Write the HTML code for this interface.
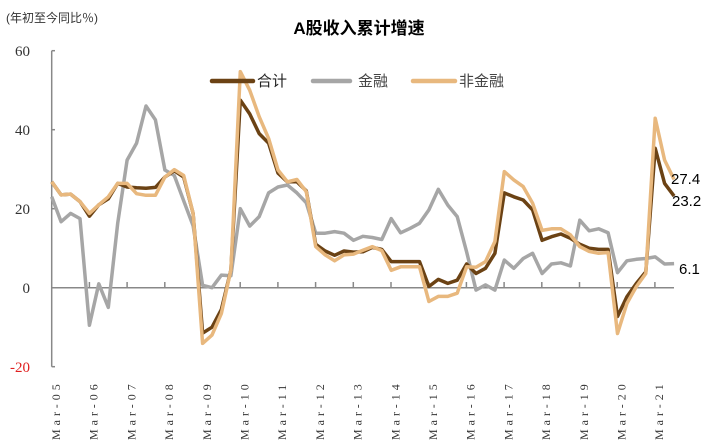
<!DOCTYPE html>
<html><head><meta charset="utf-8"><style>
body{margin:0;background:#fff;width:718px;height:444px;overflow:hidden}
svg{display:block}
</style></head><body>
<svg id="s" width="718" height="444" xmlns="http://www.w3.org/2000/svg" font-family="Liberation Serif, Noto Serif CJK SC, serif">
<text x="6" y="22" font-size="12" fill="#333" font-family="Liberation Sans, Noto Sans CJK SC, sans-serif">(年初至今同比％)</text>
<text x="359" y="34" font-size="17" font-weight="bold" text-anchor="middle" fill="#000" font-family="Liberation Sans, Noto Sans CJK SC, sans-serif">A股收入累计增速</text>
<g font-size="15" fill="#333" text-anchor="end">
<text x="30" y="56">60</text><text x="30" y="135">40</text><text x="30" y="214">20</text><text x="30" y="293">0</text><text x="30" y="372" fill="#e02020">-20</text>
</g>
<g stroke="#888" stroke-width="1.5" fill="none">
<line x1="51.7" y1="50.7" x2="51.7" y2="366.7"/>
<line x1="51.7" y1="287.7" x2="674" y2="287.7"/>
<line x1="51.7" y1="50.7" x2="55" y2="50.7"/><line x1="51.7" y1="129.7" x2="55" y2="129.7"/><line x1="51.7" y1="208.7" x2="55" y2="208.7"/><line x1="51.7" y1="366.7" x2="55" y2="366.7"/>
</g>
<g id="ticks" stroke="#888" stroke-width="1.5"></g>
<g id="xl" font-size="12" fill="#333"></g>
<g id="lines" fill="none" stroke-width="3.5" stroke-linejoin="round"></g>
<g font-family="Liberation Sans, Noto Sans CJK SC, sans-serif" font-size="15" fill="#222">
<line x1="212" y1="81" x2="253" y2="81" stroke="#6b4214" stroke-width="4.5" stroke-linecap="round"/>
<text x="257" y="86">合计</text>
<line x1="313" y1="81" x2="350" y2="81" stroke="#a6a6a6" stroke-width="4.5" stroke-linecap="round"/>
<text x="358" y="86" fill="#444">金融</text>
<line x1="413" y1="81" x2="455" y2="81" stroke="#e8b87e" stroke-width="4.5" stroke-linecap="round"/>
<text x="459" y="86" fill="#444">非金融</text>
<text x="671" y="184" fill="#000">27.4</text>
<text x="672" y="206" fill="#000">23.2</text>
<text x="679" y="274" fill="#000">6.1</text>
</g>
</svg>
<script>
var ns="http://www.w3.org/2000/svg";
function X(i){return 51.7+9.43*i}function Y(v){return 287.7-v*3.95}
var gray=[23,16.7,18.8,17.5,-9.5,1,-5,16.3,32.3,36.6,46,42.5,29.8,28.4,22,15.7,0.6,0,3.2,3,20,15.6,18,24,25.5,26,24,21.5,13.8,13.8,14.2,13.8,12,13,12.7,12.2,17.5,13.9,15,16.3,19.7,24.9,20.9,18,9.1,-0.6,0.7,-0.6,7,4.9,7.4,8.7,3.6,6,6.3,5.5,17.1,14.4,14.9,13.9,3.8,6.8,7.2,7.4,7.8,6,6.1];
var tot=[26.8,23.5,23.7,21.8,18.1,21,22.5,26.4,25.5,25.3,
25.2,25.4,28,29.6,28,18.8,-11.5,-10,-5.5,4.5,
47.5,44,39,36.6,29,26.8,26.8,24.5,11,9.3,
8.2,9.3,9,9.1,10.2,9.7,6.6,6.6,6.6,6.6,
0.3,2.1,1.1,1.9,6,3.6,4.9,8.7,24,23,
22.2,19.7,12,12.9,13.6,12.5,11,10,9.7,9.7,
-7.3,-2.3,1.1,4,35.3,26.4,23.2];
var non=[26.8,23.5,23.7,21.8,18.8,21,23,26.4,26.4,23.8,
23.4,23.4,28,29.9,28.4,18.8,-14.1,-12,-6.5,4.5,
54.7,50,43.3,37.8,29.8,26.8,27.4,24.3,10.4,8.3,
6.8,8.3,8.5,9.5,10.4,9.4,4.4,5.3,5.3,5.3,
-3.5,-2.2,-2.2,-1.4,5.3,5.2,6.6,11.7,29.4,27.3,
25.6,21.4,14.5,14.9,14.9,13.4,10.4,9.2,8.7,8.9,
-11.6,-4,0.3,3.6,42.9,32.3,27.4];
function pl(d,c){var p=d.map(function(v,i){return X(i).toFixed(1)+','+Y(v).toFixed(1)}).join(' ');var e=document.createElementNS(ns,'polyline');e.setAttribute('points',p);e.setAttribute('stroke',c);document.getElementById('lines').appendChild(e);}
pl(gray,'#a6a6a6');pl(tot,'#6b4214');pl(non,'#e8b87e');
for(var k=1;k<=16;k++){var t=document.createElementNS(ns,'line');var x=51.7+37.7*k;t.setAttribute('x1',x);t.setAttribute('x2',x);t.setAttribute('y1',282);t.setAttribute('y2',287.7);document.getElementById('ticks').appendChild(t);}
for(var k=0;k<=16;k++){var t=document.createElementNS(ns,'text');var x=56+37.7*k;var yy=(k+5<10?'0':'')+(k+5);t.setAttribute('transform','translate('+(x+4)+',440) rotate(-90)');t.setAttribute('letter-spacing','4');t.textContent='Mar-'+yy;document.getElementById('xl').appendChild(t);}
</script>
</body></html>
